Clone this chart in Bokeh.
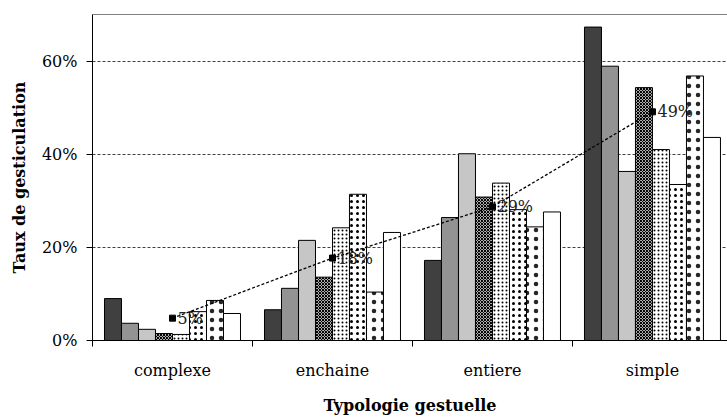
from bokeh.plotting import figure
from bokeh.models import (Range1d, FixedTicker, NumeralTickFormatter, LinearAxis,
                          ColumnDataSource, Grid)
from bokeh.core.properties import value
from bokeh.embed import file_html
from bokeh.resources import INLINE

# ---- data ----
categories = ["complexe", "enchaine", "entiere", "simple"]
serie_1 = [0.090, 0.066, 0.172, 0.673]   # dark grey
serie_2 = [0.037, 0.112, 0.264, 0.589]   # mid grey
serie_3 = [0.024, 0.215, 0.401, 0.363]   # light grey
serie_4 = [0.015, 0.136, 0.308, 0.543]   # checker
serie_5 = [0.013, 0.242, 0.338, 0.410]   # dense dots
serie_6 = [0.062, 0.314, 0.281, 0.335]   # medium dots
serie_7 = [0.086, 0.104, 0.244, 0.568]   # sparse dots
serie_8 = [0.058, 0.232, 0.276, 0.436]   # white
moyenne = [0.048, 0.177, 0.287, 0.491]
moyenne_labels = ["5%", "18%", "29%", "49%"]
y_ticks = [0.0, 0.2, 0.4, 0.6]

series = [serie_1, serie_2, serie_3, serie_4, serie_5, serie_6, serie_7, serie_8]
styles = [
    dict(fill_color="#404040"),
    dict(fill_color="#939393"),
    dict(fill_color="#c6c6c6"),
    dict(fill_color="white", hatch_pattern="diagonal_cross", hatch_scale=3, hatch_weight=1.2, hatch_color="black"),
    dict(fill_color="white", hatch_pattern="dot", hatch_scale=4, hatch_weight=0.5, hatch_color="black"),
    dict(fill_color="white", hatch_pattern="dot", hatch_scale=6, hatch_weight=0.5, hatch_color="black"),
    dict(fill_color="white", hatch_pattern="dot", hatch_scale=9, hatch_weight=0.3, hatch_color="black", hatch_alpha=0.85),
    dict(fill_color="white"),
]

FONT = "DejaVu Serif"
n_series = len(series)
gap = 0.075
bw = (1 - 2 * gap) / n_series
centers = [i + 0.5 for i in range(len(categories))]

p = figure(width=727, height=417, output_backend="svg", toolbar_location=None,
           x_range=Range1d(0, 3.969), y_range=Range1d(0, 0.70),
           min_border_left=92, min_border_right=0, min_border_top=14, min_border_bottom=77,
           x_axis_type=None, y_axis_type=None)
p.outline_line_color = None
p.background_fill_color = "white"

for j, (vals, st) in enumerate(zip(series, styles)):
    xs = [i + gap + (j + 0.5) * bw for i in range(len(categories))]
    src = ColumnDataSource(dict(x=xs, top=vals))
    p.vbar(x="x", top="top", bottom=0, width=bw, source=src,
           line_color="black", line_width=1, **st)

# trend of the mean
msrc = ColumnDataSource(dict(x=centers, y=moyenne, lab=moyenne_labels))
p.line(x="x", y="y", source=msrc, line_color="black", line_width=1.3, line_dash="3 2")
p.scatter(x="x", y="y", source=msrc, marker="square", size=6, color="black")
p.text(x="x", y="y", text="lab", source=msrc, x_offset=5, text_baseline="middle",
       text_font=value(FONT), text_font_size="16px", text_color="#222222")

# y axis
yaxis = LinearAxis(ticker=FixedTicker(ticks=y_ticks),
                   formatter=NumeralTickFormatter(format="0%"),
                   axis_label="Taux de gesticulation")
yaxis.axis_line_color = "black"
yaxis.major_tick_out = 6
yaxis.major_tick_in = 0
yaxis.minor_tick_line_color = None
yaxis.major_label_standoff = 9
yaxis.major_label_text_font = FONT
yaxis.major_label_text_font_size = "16px"
yaxis.major_label_text_color = "black"
yaxis.axis_label_text_font = FONT
yaxis.axis_label_text_font_style = "bold"
yaxis.axis_label_text_font_size = "16px"
yaxis.axis_label_text_color = "black"
yaxis.axis_label_standoff = 10
p.add_layout(yaxis, "left")

# x axis (category labels at centres, ticks at boundaries)
xaxis = LinearAxis(ticker=FixedTicker(ticks=centers, minor_ticks=[0, 1, 2, 3, 4]),
                   axis_label="Typologie gestuelle")
xaxis.major_label_overrides = {c: name for c, name in zip(centers, categories)}
xaxis.axis_line_color = "black"
xaxis.major_tick_line_color = None
xaxis.major_tick_out = 0
xaxis.major_tick_in = 0
xaxis.minor_tick_out = 6
xaxis.minor_tick_in = 0
xaxis.minor_tick_line_color = "black"
xaxis.major_label_standoff = 14
xaxis.major_label_text_font = FONT
xaxis.major_label_text_font_size = "16px"
xaxis.major_label_text_color = "black"
xaxis.axis_label_text_font = FONT
xaxis.axis_label_text_font_style = "bold"
xaxis.axis_label_text_font_size = "16px"
xaxis.axis_label_text_color = "black"
xaxis.axis_label_standoff = 13
p.add_layout(xaxis, "below")

# top border line only
top = LinearAxis(ticker=FixedTicker(ticks=[]))
top.axis_line_color = "#808080"
top.major_tick_out = 0
top.major_tick_in = 0
top.minor_tick_out = 0
top.minor_tick_in = 0
top.major_label_standoff = 0
top.major_label_text_font_size = "0px"
p.add_layout(top, "above")

# grid
p.add_layout(Grid(dimension=1, ticker=FixedTicker(ticks=[0.2, 0.4, 0.6]),
                  grid_line_color="#404040", grid_line_dash="3 2", grid_line_width=1))

open("out.html", "w").write(file_html(p, INLINE))
